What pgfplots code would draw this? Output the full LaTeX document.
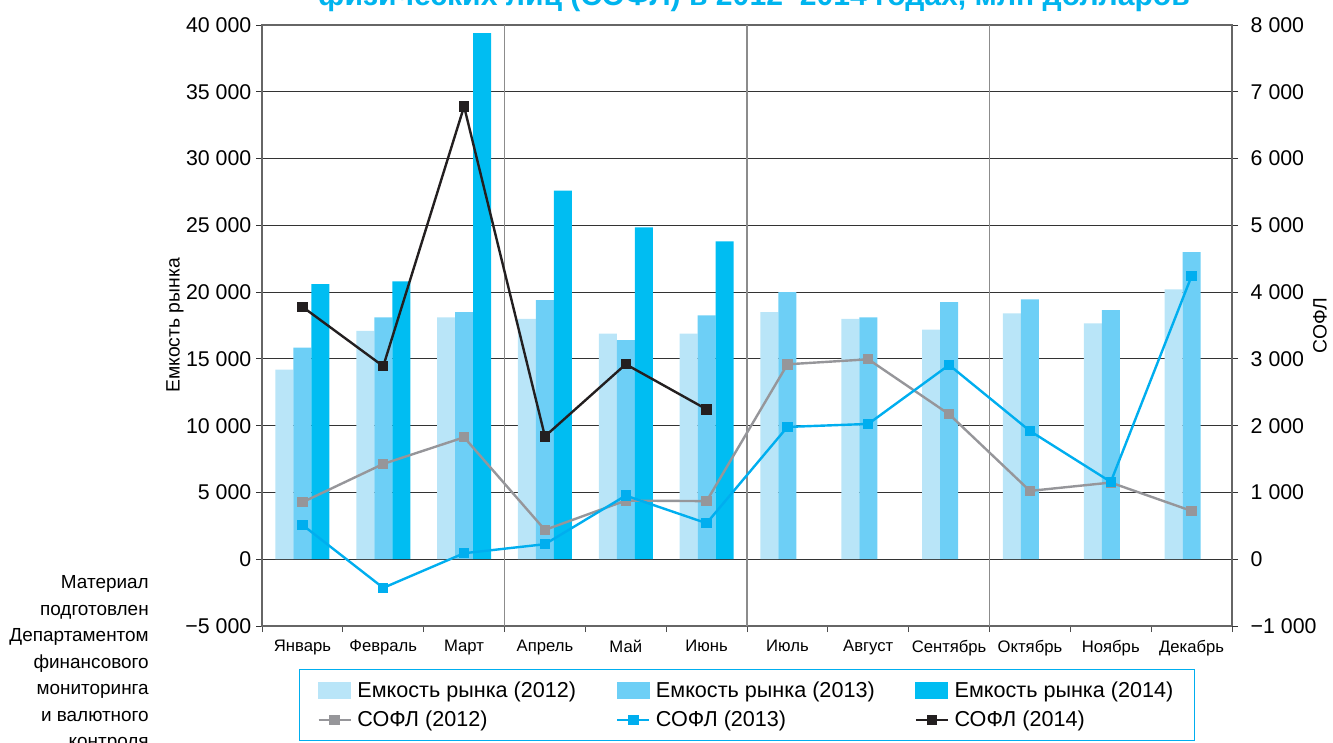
\documentclass[border=0pt]{standalone}
\usepackage{pgfplots}
\pgfplotsset{compat=1.18}
\usepackage{fontspec}
\setmainfont{Liberation Sans}
\definecolor{b12}{HTML}{B9E5F8}
\definecolor{b13}{HTML}{6DCFF6}
\definecolor{b14}{HTML}{00BDF2}
\definecolor{l12}{HTML}{96969A}
\definecolor{l13}{HTML}{00AEEF}
\definecolor{l14}{HTML}{231F20}
\definecolor{ttl}{HTML}{00B4EE}
\begin{document}
\begin{tikzpicture}
\pgfplotsset{
  common/.style={
    scale only axis, width=727.5pt, height=450.75pt,
    at={(196.5pt,87pt)}, anchor=south west,
    xmin=-0.5, xmax=11.5,
    tick align=outside,
    scaled y ticks=false,
    y tick label style={font=\fontsize{16}{18}\selectfont},
    ylabel style={font=\fontsize{14.5}{16}\selectfont},
  },
  barleg/.style={legend image code/.code={\fill[#1] (0pt,-6pt) rectangle (24pt,6pt); \path[draw=none,fill=none] (0pt,-0.1pt) rectangle (27pt,0.1pt);}},
  lineleg/.style={legend image code/.code={\draw[mark repeat=2,mark phase=2,#1] plot coordinates {(0pt,0pt) (12pt,0pt) (24pt,0pt)}; \path[draw=none,fill=none] (0pt,-0.1pt) rectangle (27pt,0.1pt);}},
}
\begin{axis}[common,
  ymin=-5000, ymax=40000,
  ytick={-5000,0,5000,10000,15000,20000,25000,30000,35000,40000},
  yticklabels={−5 000,0,5 000,10 000,15 000,20 000,25 000,30 000,35 000,40 000},
  ytick pos=left,
  major y tick style={black!80, line width=0.6pt},
  major tick length=4.5pt,
  xtick={0,...,11},
  xticklabels={Январь,Февраль,Март,Апрель,Май,Июнь,Июль,Август,Сентябрь,Октябрь,Ноябрь,Декабрь},
  x tick label style={font=\fontsize{12.5}{14}\selectfont, yshift=-2.5pt},
  major x tick style={draw=none},
  minor xtick={-0.5,0.5,...,11.5},
  minor x tick style={black!70, line width=0.6pt},
  minor tick length=4.5pt,
  xtick pos=bottom,
  ymajorgrids,
  major grid style={black!80, line width=0.8pt},
  extra x ticks={2.5,5.5,8.5},
  extra x tick labels={},
  extra x tick style={xmajorgrids=true, major grid style={gray!90, line width=0.9pt}, major tick length=0pt},
  axis line style={gray!80!black, line width=0.8pt},
  ylabel={Емкость рынка},
  ylabel style={at={(axis description cs:-0.0897,0.5)}, anchor=center},
]
\addplot[ybar, bar width=13.5pt, bar shift=-13.5pt, fill=b12, draw=none] coordinates {
(0,14200) (1,17100) (2,18100) (3,18000) (4,16900) (5,16900)
(6,18500) (7,18000) (8,17200) (9,18400) (10,17650) (11,20200)};
\addplot[ybar, bar width=13.5pt, bar shift=0pt, fill=b13, draw=none] coordinates {
(0,15850) (1,18100) (2,18500) (3,19400) (4,16400) (5,18250)
(6,20000) (7,18100) (8,19250) (9,19450) (10,18650) (11,23000)};
\addplot[ybar, bar width=13.5pt, bar shift=13.5pt, fill=b14, draw=none] coordinates {
(0,20600) (1,20800) (2,39400) (3,27600) (4,24850) (5,23800)};
\end{axis}
\begin{axis}[common,
  ymin=-1000, ymax=8000,
  ytick={-1000,0,1000,2000,3000,4000,5000,6000,7000,8000},
  yticklabels={−1 000,0,1 000,2 000,3 000,4 000,5 000,6 000,7 000,8 000},
  y tick label style={xshift=6pt},
  axis y line*=right,
  axis x line=none,
  major y tick style={black!80, line width=0.6pt},
  major tick length=4.5pt,
  axis line style={gray!80!black, line width=0.8pt},
  ylabel={СОФЛ},
  ylabel style={at={(axis description cs:1.0907,0.5)}, anchor=center, rotate=0},
  legend columns=3,
  legend cell align=left,
  legend style={
    at={(axis description cs:0.0381,-0.0715)}, anchor=north west,
    draw=l13, line width=0.8pt,
    font=\fontsize{16.2}{18}\selectfont,
    inner xsep=13.5pt, inner ysep=7pt,
    row sep=5pt,
    /tikz/every even column/.append style={column sep=28pt},
  },
]
\addlegendimage{barleg=b12}
\addlegendentry{Емкость рынка (2012)}
\addlegendimage{barleg=b13}
\addlegendentry{Емкость рынка (2013)}
\addlegendimage{barleg=b14}
\addlegendentry{Емкость рынка (2014)}
\addplot[l12, line width=1.8pt, mark=square*, mark size=3pt, lineleg] coordinates {
(0,853) (1,1427) (2,1826) (3,439) (4,878) (5,870)
(6,2919) (7,2994) (8,2171) (9,1023) (10,1148) (11,723)};
\addlegendentry{СОФЛ (2012)}
\addplot[l13, line width=1.8pt, mark=square*, mark size=3pt, lineleg] coordinates {
(0,514) (1,-429) (2,90) (3,225) (4,953) (5,539)
(6,1981) (7,2026) (8,2909) (9,1921) (10,1158) (11,4241)};
\addlegendentry{СОФЛ (2013)}
\addplot[l14, line width=1.8pt, mark=square*, mark size=3pt, lineleg] coordinates {
(0,3780) (1,2890) (2,6780) (3,1840) (4,2920) (5,2245)};
\addlegendentry{СОФЛ (2014)}
\end{axis}
\node[anchor=base, font=\bfseries\fontsize{22.6}{26}\selectfont, text=ttl, inner sep=0pt] at (565.5pt,552pt) {физических лиц (СОФЛ) в 2012–2014 годах, млн долларов};
\node[anchor=north east, align=right, inner sep=0pt, font=\fontsize{14.2}{19.9}\selectfont] at (111.75pt,125pt) {Материал\\подготовлен\\Департаментом\\финансового\\мониторинга\\и валютного\\контроля};
\pgfresetboundingbox
\useasboundingbox (0,0) rectangle (999.75pt,556.5pt);
\end{tikzpicture}
\end{document}
